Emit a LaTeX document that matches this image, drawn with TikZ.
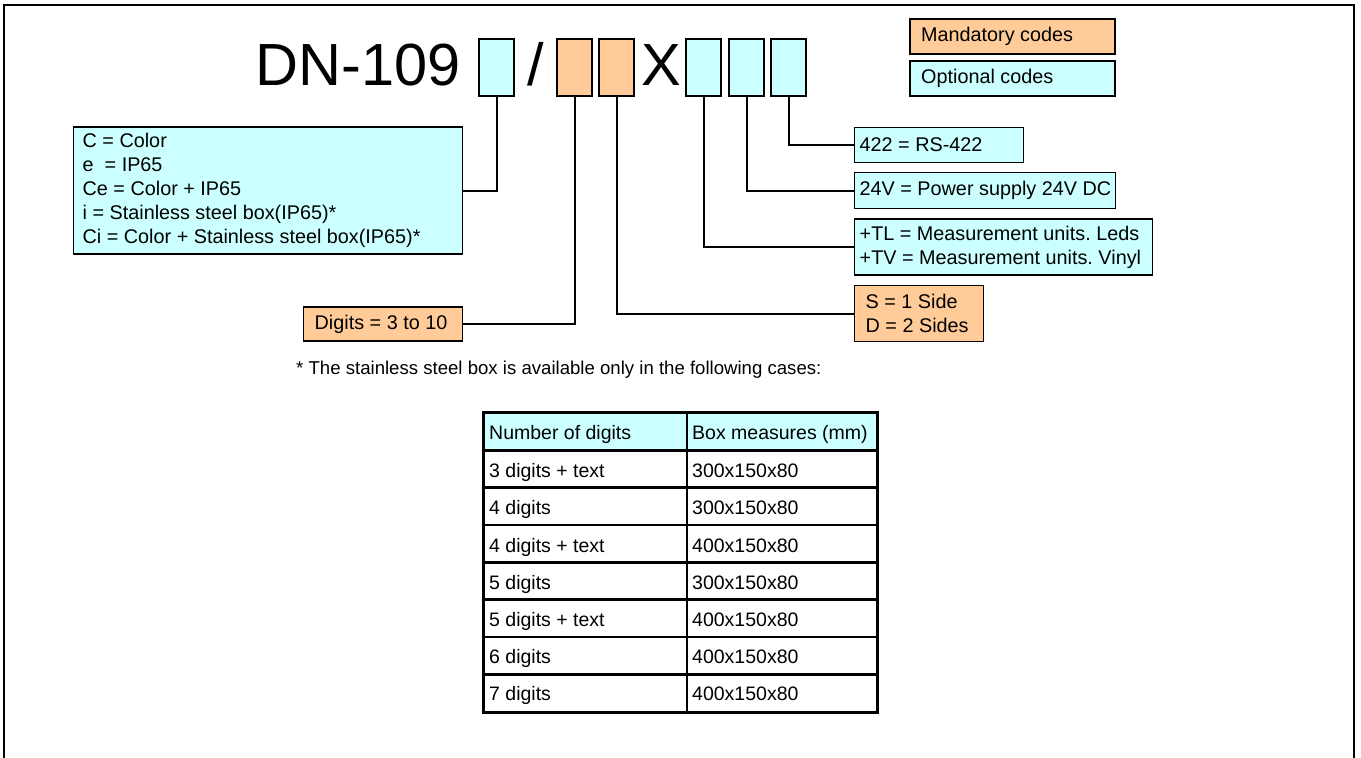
\documentclass[tikz,border=0pt]{standalone}
\usepackage{fontspec}
\setmainfont{Liberation Sans}
\frenchspacing
\definecolor{cy}{HTML}{CCFFFF}
\definecolor{og}{HTML}{FFCC99}
\begin{document}
\begin{tikzpicture}[x=1pt,y=-1pt,
  bx/.style={draw, line width=1.5pt, anchor=north west, inner sep=0pt, outer sep=0pt},
  cbx/.style={bx, fill=cy},
  obx/.style={bx, fill=og},
  lbl/.style={anchor=west, inner sep=0pt, align=left, font=\fontsize{19.8}{24}\selectfont},
  sq/.style={draw, line width=1.5pt, anchor=north west, inner sep=0pt, outer sep=0pt, minimum width=35, minimum height=57},
  conn/.style={draw, line width=2pt},
  big/.style={anchor=base west, inner sep=0pt, font=\fontsize{59.5}{60}\selectfont},
  tt/.style={anchor=base west, inner sep=0pt, font=\fontsize{19.5}{22}\selectfont}
]
\useasboundingbox (0,0) rectangle (1361,758);
% frame
\draw[line width=2pt] (4,760) -- (4,5) -- (1354,5) -- (1354,760);
% code
\node[big] (dn) at (255.5,85.7) {DN-109};
\node[sq, fill=cy] (c1) at (479,39) {};
\node[big] (sl) at (527,85.7) {/};
\node[sq, fill=og] (o1) at (557,39) {};
\node[sq, fill=og] (o2) at (599,39) {};
\node[big] (xx) at (641,85.7) {X};
\node[sq, fill=cy] (c2) at (686,39) {};
\node[sq, fill=cy] (c3) at (729,39) {};
\node[sq, fill=cy] (c4) at (771,39) {};
% legend
\node[obx, minimum width=205, minimum height=35] (mand) at (910,19) {};
\node[lbl] (mandt) at ([xshift=11pt]mand.west) {Mandatory codes};
\node[cbx, minimum width=205, minimum height=35] (opt) at (910,61) {};
\node[lbl] (optt) at ([xshift=11pt]opt.west) {Optional codes};
% option boxes
\node[cbx, minimum width=389, minimum height=127] (col) at (73.5,127) {};
\node[lbl] (colt) at ([xshift=9pt]col.west)
  {C = Color\\e\ \ = IP65\\Ce = Color + IP65\\i = Stainless steel box(IP65)*\\Ci = Color + Stainless steel box(IP65)*};
\node[obx, minimum width=159, minimum height=34] (dig) at (303.5,307) {};
\node[lbl] (digt) at ([xshift=11pt]dig.west) {Digits = 3 to 10};
\node[cbx, minimum width=169, minimum height=35] (rs) at (854.5,127.5) {};
\node[lbl] (rst) at ([xshift=5pt]rs.west) {422 = RS-422};
\node[cbx, minimum width=261, minimum height=36] (pw) at (854.5,172.5) {};
\node[lbl] (pwt) at ([xshift=5pt]pw.west) {24V = Power supply 24V DC};
\node[cbx, minimum width=298, minimum height=56] (tl) at (854.5,219) {};
\node[lbl] (tlt) at ([xshift=5pt]tl.west) {+TL = Measurement units. Leds\\+TV = Measurement units. Vinyl};
\node[obx, minimum width=129, minimum height=56] (sd) at (854.5,285.5) {};
\node[lbl] (sdt) at ([xshift=11pt]sd.west) {S = 1 Side\\D = 2 Sides};
% connectors
\draw[conn] (c1.south) |- (col.east);
\draw[conn] (o1.south) |- (dig.east);
\draw[conn] (o2.south) |- (sd.west);
\draw[conn] (c2.south) |- (tl.west);
\draw[conn] (c3.south) |- (pw.west);
\draw[conn] (c4.south) |- (rs.west);
% footnote
\node[anchor=base west, inner sep=0pt, font=\fontsize{18.6}{22}\selectfont] (note) at (296,374)
  {* The stainless steel box is available only in the following cases:};
% table
\fill[cy] (483,412) rectangle (877,450);
\foreach \i in {1,...,6} {
  \draw[line width=2.5pt] (483,{450+37.43*\i}) -- (877,{450+37.43*\i});
}
\draw[line width=3pt] (483,450) -- (877,450);
\draw[line width=2.5pt] (687,412) -- (687,712);
\draw[line width=3pt] (483,412) rectangle (877,712);
\node[tt] (h1) at (489,439) {Number of digits};
\node[tt] (h2) at (692,439) {Box measures (mm)};
\foreach \a/\b [count=\k from 0] in {3 digits + text/300x150x80, 4 digits/300x150x80, 4 digits + text/400x150x80,
  5 digits/300x150x80, 5 digits + text/400x150x80, 6 digits/400x150x80, 7 digits/400x150x80} {
  \node[tt] (r\k a) at (489,{477.7+37.2*\k}) {\a};
  \node[tt] (r\k b) at (692,{477.7+37.2*\k}) {\b};
}
\end{tikzpicture}
\end{document}
